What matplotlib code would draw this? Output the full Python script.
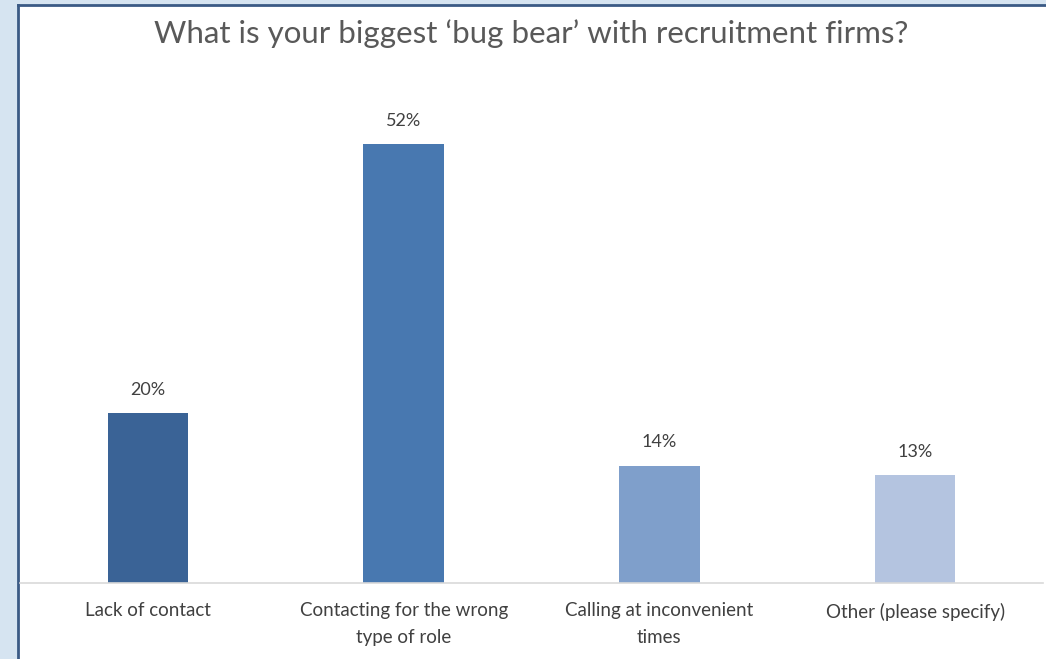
import matplotlib.pyplot as plt
from matplotlib.patches import Rectangle

plt.rcParams["font.family"] = ["Lato", "DejaVu Sans"]

# data
categories = ["Lack of contact", "Contacting for the wrong\ntype of role",
              "Calling at inconvenient\ntimes", "Other (please specify)"]
values = [20.1, 52.0, 13.9, 12.8]
labels = ["20%", "52%", "14%", "13%"]
bar_colors = ["#3a6396", "#4878b0", "#7f9fcb", "#b4c4e0"]

W, H = 1046, 659
fig = plt.figure(figsize=(W / 100, H / 100), dpi=100)
fig.patch.set_facecolor("#d6e4f1")

# white panel with dark blue edge on left and top
top = 1 - 5 / H
fig.patches.append(Rectangle((18 / W, 0), 1, top, transform=fig.transFigure,
                             facecolor="white", edgecolor="none", zorder=-5))
fig.lines.append(plt.Line2D([18 / W, 18 / W], [0, top], transform=fig.transFigure,
                            color="#3b5a85", lw=2, zorder=-4))
fig.lines.append(plt.Line2D([18 / W, 1], [top, top], transform=fig.transFigure,
                            color="#3b5a85", lw=2, zorder=-4))

ax = fig.add_axes([20 / W, 1 - 583 / H, 1023 / W, 506 / H])
ax.set_facecolor("none")
x = range(len(categories))
bars = ax.bar(x, values, width=0.315, color=bar_colors)
ax.set_xlim(-0.5, 3.5)
ax.set_ylim(0, 60)

for b, lab in zip(bars, labels):
    ax.annotate(lab, (b.get_x() + b.get_width() / 2, b.get_height()),
                xytext=(0, 11), textcoords="offset points", ha="center", va="bottom",
                fontsize=13, color="#404040")

for s in ["top", "right", "left"]:
    ax.spines[s].set_visible(False)
ax.spines["bottom"].set_color("#d9d9d9")
ax.spines["bottom"].set_linewidth(1.2)
ax.set_yticks([])
ax.set_xticks(list(x))
ax.set_xticklabels(categories, fontsize=13.5, color="#404040", linespacing=1.65)
ax.tick_params(axis="x", length=0, pad=14)

fig.text(531 / W, 1 - 34 / H, "What is your biggest \u2018bug bear\u2019 with recruitment firms?",
         ha="center", va="center", fontsize=22.5, color="#595959")

fig.savefig("out.png", dpi=100, facecolor=fig.get_facecolor())
